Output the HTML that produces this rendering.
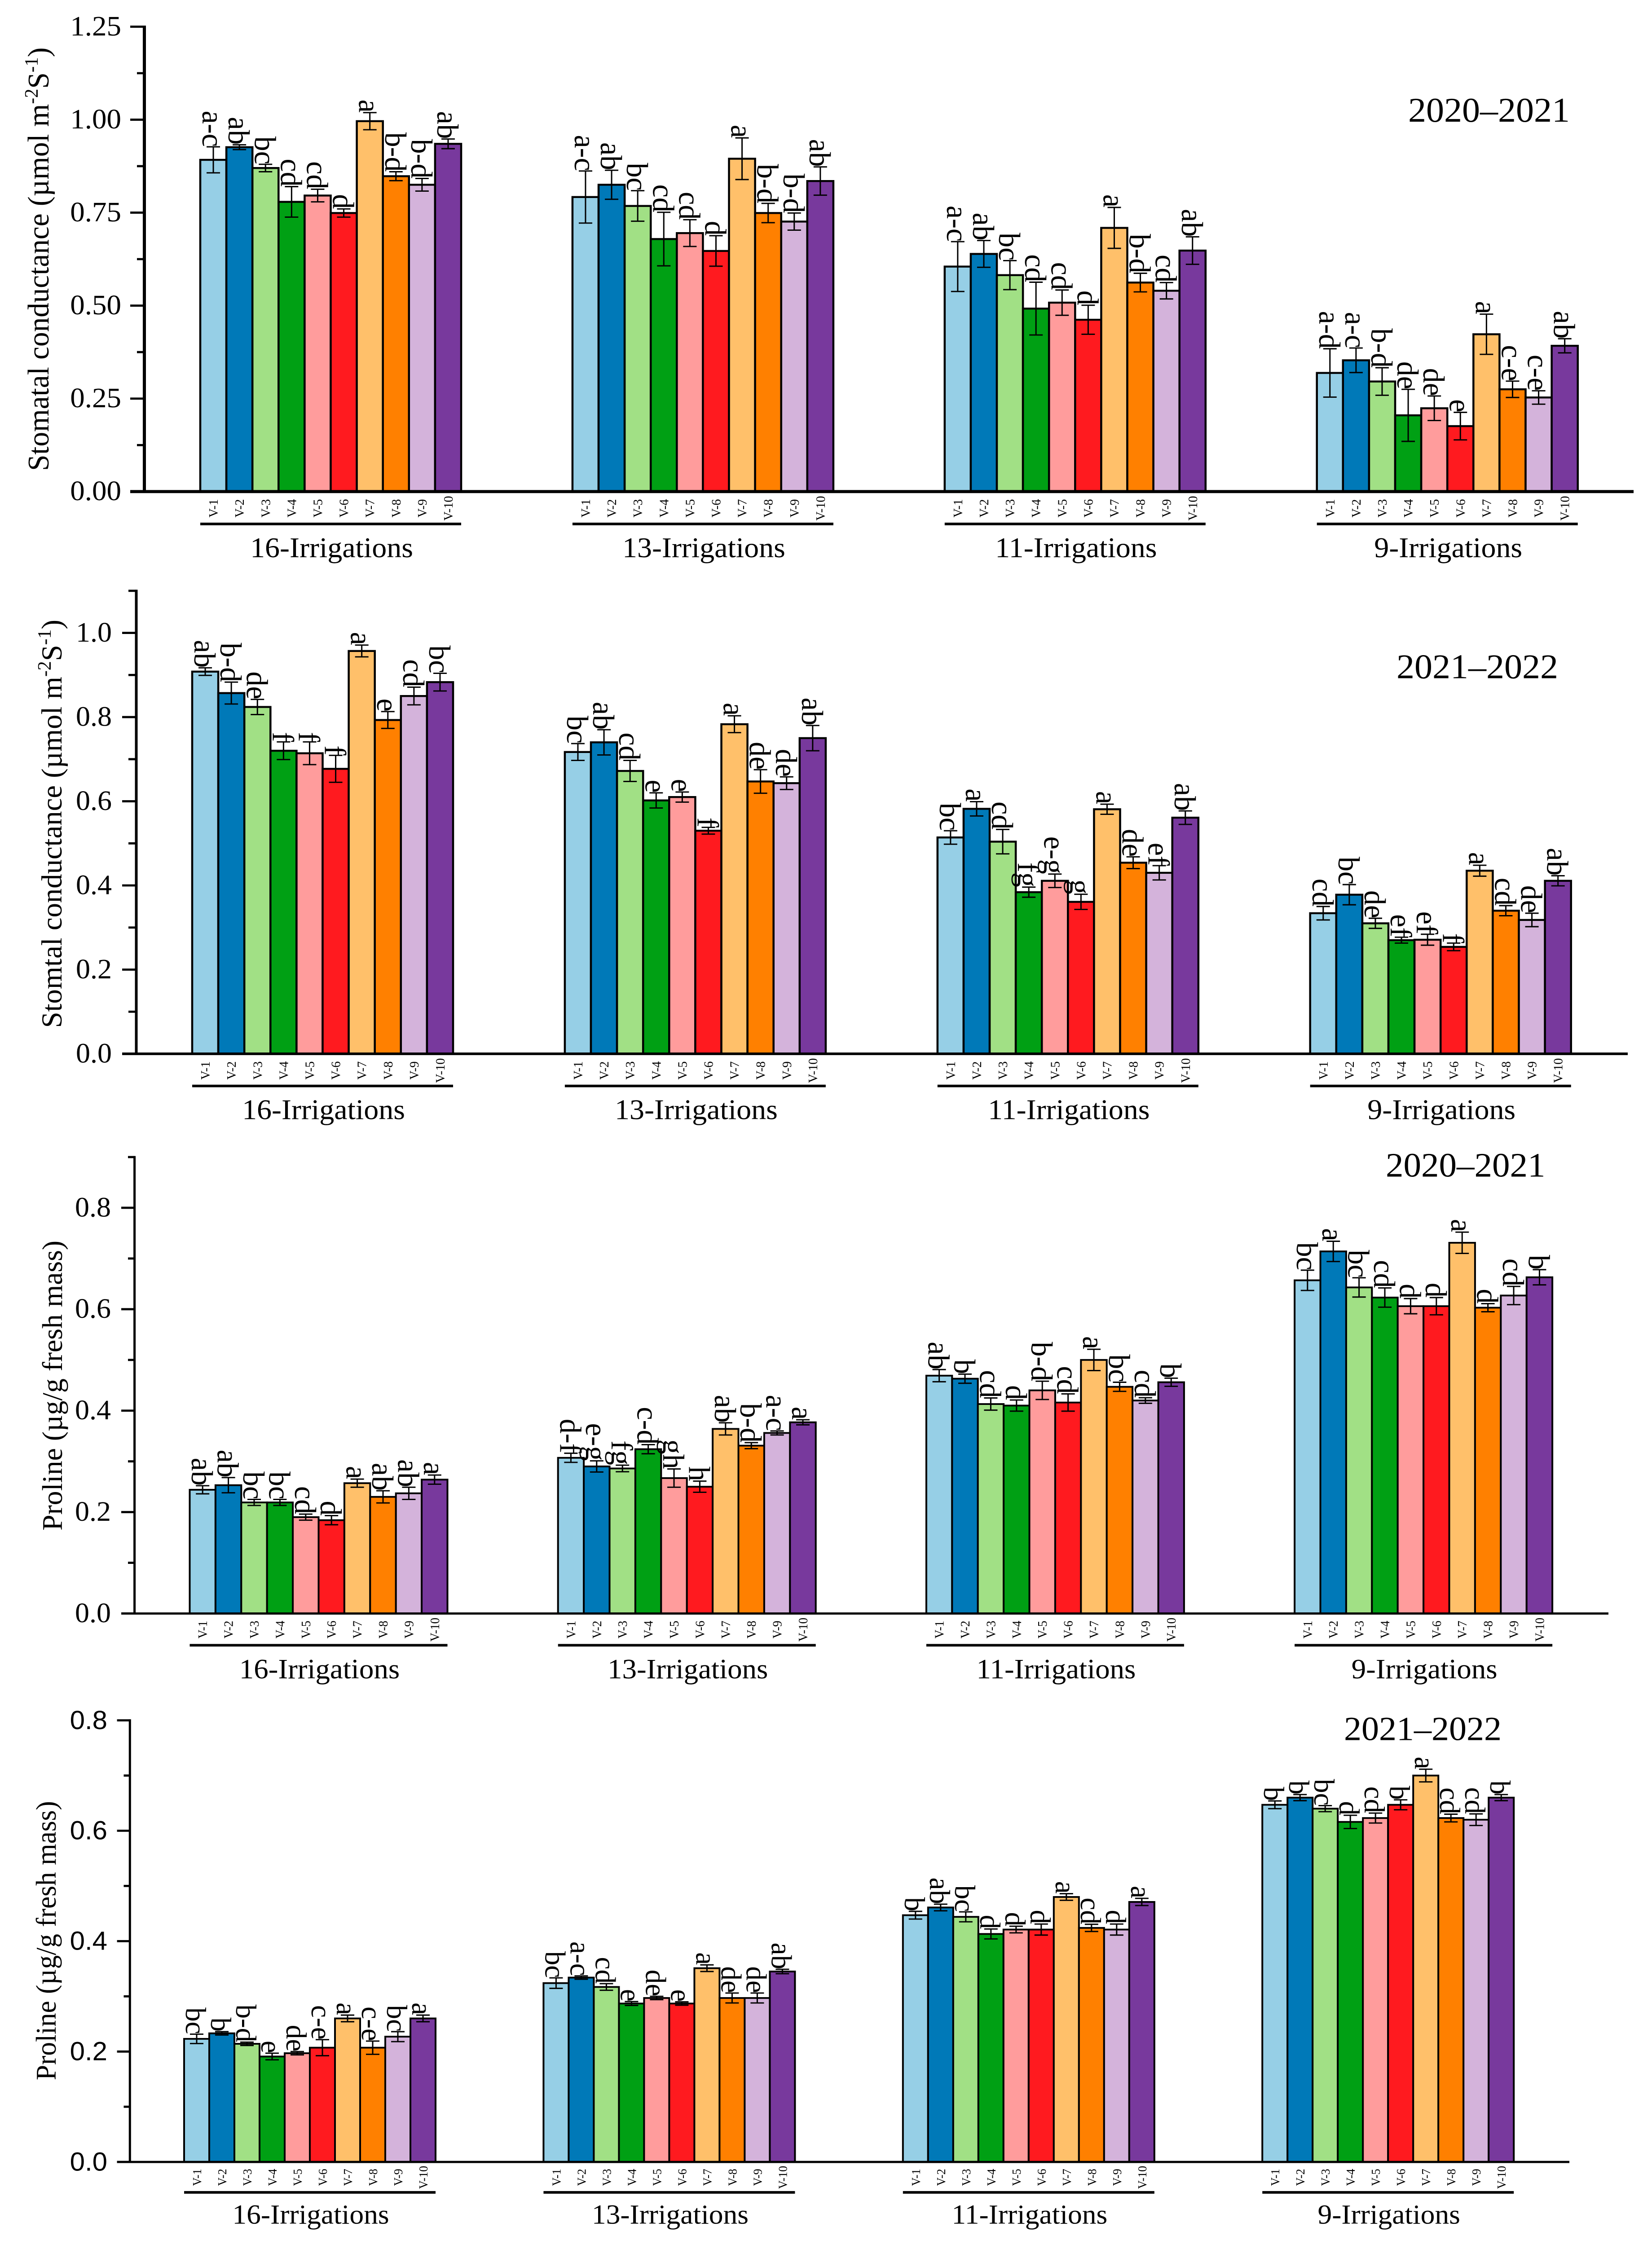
<!DOCTYPE html>
<html lang="en">
<head>
<meta charset="utf-8">
<title>Stomatal conductance and proline by irrigation regime</title>
<style>
html,body{margin:0;padding:0;background:#fff;width:100%;height:100%;overflow:hidden}
svg{display:block;width:100vw;height:100vh}
text{font-family:"Liberation Serif","Times New Roman",serif;fill:#000}
</style>
</head>
<body>
<svg id="figure" xmlns="http://www.w3.org/2000/svg" viewBox="0 0 3679 5163" preserveAspectRatio="none">
  <rect x="0" y="0" width="3679" height="5163" fill="#fff"/>

  <text transform="translate(108,1083) rotate(-90)" font-size="67" textLength="974" lengthAdjust="spacingAndGlyphs">Stomatal conductance (µmol m<tspan dy="-24" font-size="42">-2</tspan><tspan dy="24">S</tspan><tspan dy="-24" font-size="42">-1</tspan><tspan dy="24">)</tspan></text>
  <text x="3136" y="280" font-size="80">2020–2021</text>

  <text transform="translate(137,2364) rotate(-90)" font-size="65" textLength="939" lengthAdjust="spacingAndGlyphs">Stomtal conductance (µmol m<tspan dy="-24" font-size="42">-2</tspan><tspan dy="24">S</tspan><tspan dy="-24" font-size="42">-1</tspan><tspan dy="24">)</tspan></text>
  <text x="3110" y="1560" font-size="80">2021–2022</text>

  <text transform="translate(138,3520) rotate(-90)" font-size="64" textLength="667" lengthAdjust="spacingAndGlyphs">Proline (µg/g fresh mass)</text>
  <text x="3086" y="2706" font-size="79">2020–2021</text>

  <text transform="translate(124,4784) rotate(-90)" font-size="64" textLength="642" lengthAdjust="spacingAndGlyphs">Proline (µg/g fresh mass)</text>
  <text x="2993" y="4002" font-size="78">2021–2022</text>
</svg>

<script>
const categories = ['V-1','V-2','V-3','V-4','V-5','V-6','V-7','V-8','V-9','V-10'];
const groupLabels = ['16-Irrigations','13-Irrigations','11-Irrigations','9-Irrigations'];

const p1TickLabels = ['0.00','0.25','0.50','0.75','1.00','1.25'];
const p1Means = [
  [.892,.926,.870,.779,.796,.749,.996,.848,.825,.935],
  [.792,.825,.768,.679,.695,.647,.895,.749,.726,.835],
  [.605,.639,.582,.492,.508,.462,.709,.562,.540,.648],
  [.319,.353,.296,.205,.224,.176,.423,.275,.253,.392]
];
const p1Errors = [
  [.035,.0065,.010,.041,.017,.011,.023,.012,.017,.013],
  [.070,.039,.041,.072,.036,.041,.056,.026,.023,.038],
  [.067,.036,.039,.071,.034,.039,.055,.025,.022,.037],
  [.065,.033,.037,.070,.033,.037,.054,.022,.018,.019]
];
const p1Letters = [
  ['a-c','ab','bc','cd','cd','d','a','b-d','b-d','ab'],
  ['a-c','ab','bc','cd','cd','d','a','b-d','b-d','ab'],
  ['a-c','ab','bc','cd','cd','d','a','b-d','cd','ab'],
  ['a-d','a-c','b-d','de','de','e','a','c-e','c-e','ab']
];

const p2TickLabels = ['0.0','0.2','0.4','0.6','0.8','1.0'];
const p2Means = [
  [.908,.857,.824,.720,.714,.677,.957,.793,.850,.883],
  [.717,.740,.672,.602,.610,.530,.783,.647,.643,.750],
  [.514,.582,.504,.384,.411,.361,.581,.454,.430,.561],
  [.334,.378,.310,.270,.271,.254,.435,.340,.318,.411]
];
const p2Errors = [
  [.009,.026,.018,.021,.027,.032,.014,.020,.021,.021],
  [.020,.030,.025,.018,.012,.008,.020,.028,.015,.030],
  [.016,.017,.029,.012,.016,.018,.012,.014,.017,.016],
  [.016,.024,.012,.007,.013,.009,.013,.012,.016,.012]
];
const p2Letters = [
  ['ab','b-d','de','f','f','f','a','e','cd','bc'],
  ['bc','ab','cd','e','e','f','a','de','de','ab'],
  ['bc','a','cd','fg','e-g','g','a','de','ef','ab'],
  ['cd','bc','de','ef','ef','f','a','cd','de','ab']
];

const p3TickLabels = ['0.0','0.2','0.4','0.6','0.8'];
const p3Means = [
  [.244,.253,.219,.219,.190,.184,.257,.230,.237,.264],
  [.307,.290,.286,.324,.267,.250,.364,.331,.356,.377],
  [.469,.463,.413,.410,.440,.416,.500,.447,.420,.456],
  [.657,.714,.643,.623,.606,.606,.731,.603,.627,.663]
];
const p3Errors = [
  [.008,.015,.006,.006,.006,.009,.008,.012,.012,.009],
  [.009,.011,.0065,.009,.018,.011,.012,.006,.004,.005],
  [.012,.009,.012,.011,.018,.017,.021,.009,.0055,.008],
  [.020,.020,.019,.019,.015,.017,.021,.008,.018,.015]
];
const p3Letters = [
  ['ab','ab','bc','bc','cd','d','a','ab','ab','a'],
  ['d-f','e-g','fg','c-d','gh','h','ab','b-d','a-c','a'],
  ['ab','b','cd','d','b-d','cd','a','bc','cd','b'],
  ['bc','a','bc','cd','d','d','a','d','cd','b']
];

const p4TickLabels = ['0.0','0.2','0.4','0.6','0.8'];
const p4Means = [
  [.223,.233,.214,.191,.197,.207,.260,.207,.227,.260],
  [.324,.334,.317,.287,.297,.287,.351,.297,.297,.345],
  [.447,.461,.444,.413,.421,.421,.480,.424,.421,.471],
  [.647,.660,.640,.616,.623,.647,.700,.623,.620,.660]
];
const p4Errors = [
  [.0085,.003,.003,.006,.003,.0145,.006,.012,.009,.006],
  [.0095,.003,.006,.0035,.003,.003,.006,.009,.009,.004],
  [.007,.006,.009,.009,.006,.010,.006,.0065,.010,.0065],
  [.007,.0055,.0055,.012,.009,.009,.0115,.007,.0105,.0055]
];
const p4Letters = [
  ['bc','b','b-d','e','de','c-e','a','c-e','bc','a'],
  ['bc','a-c','cd','e','de','e','a','de','de','ab'],
  ['b','ab','bc','d','d','d','a','cd','d','a'],
  ['b','b','bc','d','cd','b','a','cd','cd','b']
];

const barColors = ['#96cfe6','#0079b8','#a1e085','#00a014','#ff9c9c','#ff1a1f','#ffc06a','#ff8000','#d4b3db','#78399d'];

const panel1 = {n:1,means:p1Means,errors:p1Errors,letters:p1Letters,ticks:p1TickLabels,yMax:1.25,minorStep:.125,
  axisX:321.5,axisW:7,y0:1130.5,yTop:61.4,majorLeft:290,minorLeft:305,axisEnd:3638,first:446,groupStep:828.9,barW:58.1,
  tickRight:270,tickFont:65,tickFamily:'"Liberation Serif",serif',letterFont:68,catFont:29,catDy:38.5,sepDy:74.5,nameDy:151,nameFont:66,strokeW:4.5};
const panel2 = {n:2,means:p2Means,errors:p2Errors,letters:p2Letters,ticks:p2TickLabels,yMax:1.1,minorStep:.1,
  axisX:303.5,axisW:6,y0:2423.5,yTop:1358.7,majorLeft:272,minorLeft:286,axisEnd:3625,first:428,groupStep:829.9,barW:58.1,
  tickRight:249,tickFont:64,tickFamily:'"Liberation Serif",serif',letterFont:68,catFont:29,catDy:38.5,sepDy:74,nameDy:150.5,nameFont:66,strokeW:4.5};
const panel3 = {n:3,means:p3Means,errors:p3Errors,letters:p3Letters,ticks:p3TickLabels,yMax:.9,minorStep:.1,
  axisX:299.6,axisW:5,y0:3710.7,yTop:2661,majorLeft:270,minorLeft:285,axisEnd:3582,first:422.5,groupStep:820.2,barW:57.4,
  tickRight:247,tickFont:64,tickFamily:'"Liberation Serif",serif',letterFont:68,catFont:28,catDy:37,sepDy:73,nameDy:149,nameFont:65,strokeW:4};
const panel4 = {n:4,means:p4Means,errors:p4Errors,letters:p4Letters,ticks:p4TickLabels,yMax:.8,minorStep:.1,
  axisX:289.3,axisW:5,y0:4972,yTop:3956.4,majorLeft:260.6,minorLeft:275.5,axisEnd:3495,first:410,groupStep:800.4,barW:56,
  tickRight:239,tickFont:60,tickFamily:'"Liberation Sans",sans-serif',letterFont:65,catFont:27,catDy:35.5,sepDy:70,nameDy:142,nameFont:63.5,strokeW:4};

const SVGNS = 'http://www.w3.org/2000/svg';
const root = document.getElementById('figure');

function make(tag, attrs, parent, txt) {
  const el = document.createElementNS(SVGNS, tag);
  for (const k in attrs) el.setAttribute(k, attrs[k]);
  if (txt !== undefined) el.textContent = txt;
  parent.appendChild(el);
  return el;
}

function drawPanel(p) {
  const yScale = v => p.y0 - (v / p.yMax) * (p.y0 - p.yTop);
  const xScale = (g, i) => p.first + g * p.groupStep + i * p.barW;

  const panel = make('g', {}, root);
  
  

  p.means.forEach((series, g) => {
    const group = make('g', {}, panel);
    
    

    series.forEach((value, i) => {
      const bar = make('rect', {
        x: xScale(g, i), y: yScale(value), width: p.barW, height: p.y0 - yScale(value),
        fill: barColors[i], stroke: '#000', 'stroke-width': p.strokeW
      }, group);
      
      
    });

    series.forEach((value, i) => {
      const cx = xScale(g, i) + p.barW / 2;
      const err = p.errors[g][i];
      const top = yScale(value + err);
      const bottom = yScale(value - err);
      const path = make('path', {
        d: 'M' + (cx - 15) + ' ' + top + 'H' + (cx + 15) + 'M' + cx + ' ' + top + 'V' + bottom + 'M' + (cx - 15) + ' ' + bottom + 'H' + (cx + 15),
        fill: 'none', stroke: '#000', 'stroke-width': 3
      }, group);
      
      

      const letter = make('text', {
        transform: 'translate(' + (cx - 24) + ',' + top + ') rotate(90)',
        'text-anchor': 'end', 'font-size': p.letterFont
      }, group, p.letters[g][i]);
      
      

      const cat = make('text', {
        transform: 'translate(' + (cx + 10) + ',' + (p.y0 + p.catDy) + ') rotate(-90)',
        'text-anchor': 'middle', 'font-size': p.catFont
      }, group, categories[i]);
      
      
    });

    const left = xScale(g, 0);
    const right = xScale(g, series.length);
    const sep = make('line', {
      x1: left, x2: right, y1: p.y0 + p.sepDy, y2: p.y0 + p.sepDy, stroke: '#000', 'stroke-width': 6
    }, group);
    
    

    const name = make('text', {
      x: (left + right) / 2 + 2, y: p.y0 + p.nameDy, 'text-anchor': 'middle', 'font-size': p.nameFont
    }, group, groupLabels[g]);
    
    
  });

  const yAxis = make('line', {
    x1: p.axisX, x2: p.axisX, y1: yScale(p.yMax) - 2.5, y2: p.y0, stroke: '#000', 'stroke-width': p.axisW
  }, panel);
  
  

  const xAxis = make('line', {
    x1: p.majorLeft, x2: p.axisEnd, y1: p.y0, y2: p.y0, stroke: '#000', 'stroke-width': p.axisW
  }, panel);
  
  

  p.ticks.forEach(label => {
    const y = yScale(Number(label));
    const tick = make('line', {
      x1: p.majorLeft, x2: p.axisX, y1: y, y2: y, stroke: '#000', 'stroke-width': 5
    }, panel);
    
    

    const tl = make('text', {
      x: p.tickRight, y: y + 20, 'text-anchor': 'end', 'font-size': p.tickFont,
      style: 'font-family:' + p.tickFamily
    }, panel, label);
    
    
  });

  for (let v = p.minorStep; v <= p.yMax + 1e-6; v += 2 * p.minorStep) {
    const y = yScale(v);
    const minor = make('line', {
      x1: p.minorLeft, x2: p.axisX, y1: y, y2: y, stroke: '#000', 'stroke-width': 5
    }, panel);
    
    
  }
}

[panel1, panel2, panel3, panel4].forEach(drawPanel);
</script>
</body>
</html>
